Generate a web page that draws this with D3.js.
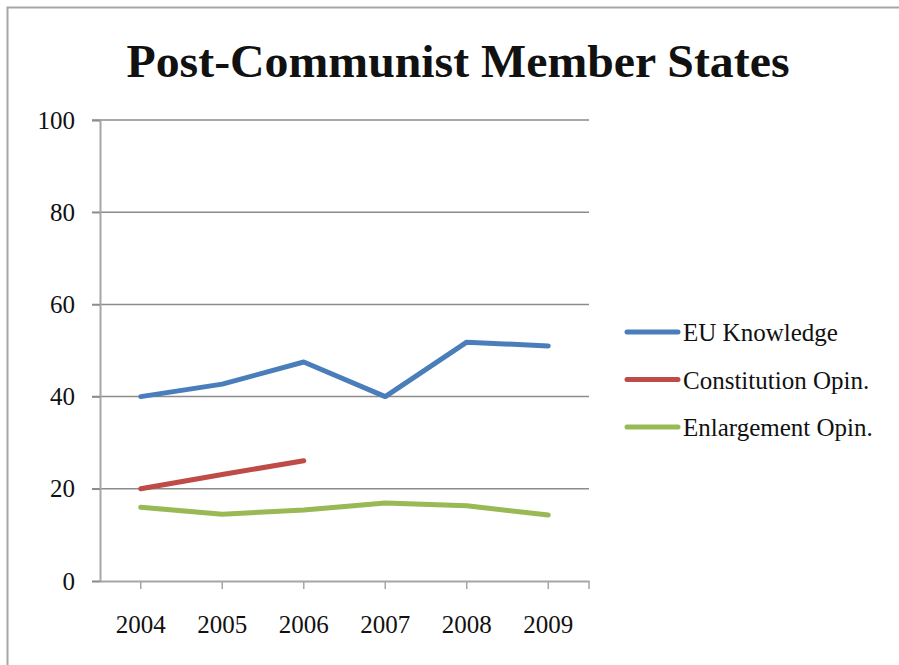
<!DOCTYPE html>
<html>
<head>
<meta charset="utf-8">
<script src="https://cdn.jsdelivr.net/npm/d3@7"></script>
<style>
  body { margin: 0; background: #fff; }
  text { font-family: "Liberation Serif", "DejaVu Serif", serif; fill: #111; }
</style>
</head>
<body>
<div id="chart"></div>
<script>
// chart data
const years = ["2004", "2005", "2006", "2007", "2008", "2009"];
const euKnowledge = [40, 42.7, 47.5, 40, 51.8, 51];
const constitutionOpin = [20, 23.1, 26.1, null, null, null];
const enlargementOpin = [16, 14.5, 15.4, 16.9, 16.3, 14.3];
const seriesNames = ["EU Knowledge", "Constitution Opin.", "Enlargement Opin."];
const yTicks = [0, 20, 40, 60, 80, 100];

const colors = ["#4a7ebb", "#be4b48", "#98b954"];
const series = [euKnowledge, constitutionOpin, enlargementOpin].map((vals, i) => ({
  name: seriesNames[i],
  color: colors[i],
  values: vals.map((v, j) => ({year: years[j], value: v}))
}));

const width = 899, height = 665;
const margin = {top: 120, left: 100, right: 310, bottom: 84};

const svg = d3.select("#chart").append("svg")
  .attr("width", width)
  .attr("height", height);

// frame (only top and left edges fall inside the picture)
svg.append("rect")
  .attr("x", 7.5).attr("y", 7.5)
  .attr("width", width + 20).attr("height", height + 20)
  .attr("fill", "none")
  .attr("stroke", "#a6a6a6")
  .attr("stroke-width", 2);

svg.append("text")
  .attr("x", 458).attr("y", 77)
  .attr("text-anchor", "middle")
  .attr("textLength", 663)
  .attr("lengthAdjust", "spacingAndGlyphs")
  .style("font-size", "46px")
  .style("font-weight", "bold")
  .text("Post-Communist Member States");

const x = d3.scaleBand()
  .domain(years)
  .range([margin.left, 589]);

const y = d3.scaleLinear()
  .domain([0, 100])
  .range([581, margin.top]);

// gridlines
const grid = svg.append("g");
grid.selectAll("line")
  .data(yTicks.slice(1))
  .join("line")
  .attr("x1", margin.left - 8).attr("x2", 589)
  .attr("y1", d => y(d)).attr("y2", d => y(d))
  .attr("stroke", "#8c8c8c")
  .attr("stroke-width", 1.5);

// y axis
const yAxis = svg.append("g")
  .attr("transform", "translate(" + margin.left + ",0)")
  .call(d3.axisLeft(y).tickValues(yTicks).tickSize(8).tickPadding(17));
yAxis.select(".domain").attr("stroke", "#a6a6a6").attr("stroke-width", 2);
yAxis.selectAll(".tick line").attr("stroke", "#8c8c8c").attr("stroke-width", 1.5);
yAxis.selectAll(".tick text")
  .style("font-size", "25px")
  .style("font-family", "Liberation Serif, serif")
  .attr("fill", "#111");

// x axis, band scale puts the ticks at the category centres
const xAxis = svg.append("g")
  .attr("transform", "translate(0," + y(0) + ")")
  .call(d3.axisBottom(x).tickSize(8).tickSizeOuter(0).tickPadding(26));
xAxis.select(".domain").attr("stroke", "#a6a6a6").attr("stroke-width", 2);
xAxis.selectAll(".tick line").attr("stroke", "#a6a6a6").attr("stroke-width", 1.5);
xAxis.selectAll(".tick text")
  .style("font-size", "25px")
  .style("font-family", "Liberation Serif, serif")
  .attr("fill", "#111");
xAxis.append("line")
  .attr("x1", 589).attr("x2", 589)
  .attr("y1", 0).attr("y2", 8)
  .attr("stroke", "#a6a6a6").attr("stroke-width", 1.5);

// lines
const line = d3.line()
  .defined(d => d.value !== null)
  .x(d => x(d.year) + x.bandwidth() / 2)
  .y(d => y(d.value));

svg.append("g").selectAll("path")
  .data(series)
  .join("path")
  .attr("d", d => line(d.values))
  .attr("fill", "none")
  .attr("stroke", d => d.color)
  .attr("stroke-width", 5)
  .attr("stroke-linecap", "round")
  .attr("stroke-linejoin", "round");

// legend
const legend = svg.append("g")
  .attr("transform", "translate(627,332)");
const item = legend.selectAll("g")
  .data(series)
  .join("g")
  .attr("transform", (d, i) => "translate(0," + (i * 47.5) + ")");
item.append("line")
  .attr("x1", 0).attr("x2", 51)
  .attr("stroke", d => d.color)
  .attr("stroke-width", 5)
  .attr("stroke-linecap", "round");
item.append("text")
  .attr("x", 56).attr("y", 9)
  .style("font-size", "25px")
  .text(d => d.name);
</script>
</body>
</html>
